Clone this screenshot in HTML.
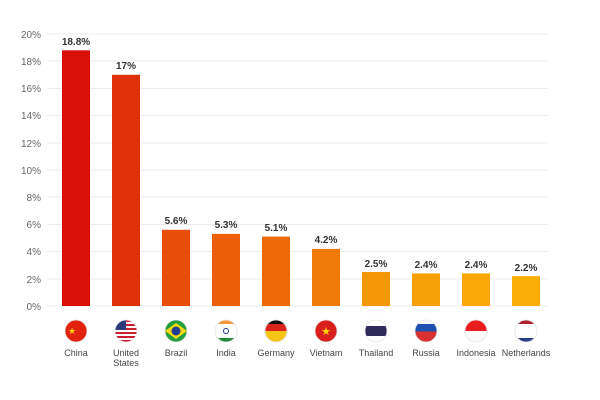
<!DOCTYPE html>
<html><head><style>body{margin:0;background:#fff}svg{display:block}text{font-family:"Liberation Sans",sans-serif}</style></head><body>
<svg width="600" height="400" viewBox="0 0 600 400">
<defs>
<clipPath id="c0"><circle cx="76" cy="331" r="11"/></clipPath>
<clipPath id="c1"><circle cx="126" cy="331" r="11"/></clipPath>
<clipPath id="c2"><circle cx="176" cy="331" r="11"/></clipPath>
<clipPath id="c3"><circle cx="226" cy="331" r="11"/></clipPath>
<clipPath id="c4"><circle cx="276" cy="331" r="11"/></clipPath>
<clipPath id="c5"><circle cx="326" cy="331" r="11"/></clipPath>
<clipPath id="c6"><circle cx="376" cy="331" r="11"/></clipPath>
<clipPath id="c7"><circle cx="426" cy="331" r="11"/></clipPath>
<clipPath id="c8"><circle cx="476" cy="331" r="11"/></clipPath>
<clipPath id="c9"><circle cx="526" cy="331" r="11"/></clipPath>
</defs>
<g stroke="#ececec" stroke-width="1">
<line x1="47" x2="548" y1="34" y2="34"/><line x1="47" x2="548" y1="61" y2="61"/><line x1="47" x2="548" y1="88.5" y2="88.5"/><line x1="47" x2="548" y1="115.5" y2="115.5"/><line x1="47" x2="548" y1="143" y2="143"/><line x1="47" x2="548" y1="170" y2="170"/><line x1="47" x2="548" y1="197" y2="197"/><line x1="47" x2="548" y1="224.5" y2="224.5"/><line x1="47" x2="548" y1="251.5" y2="251.5"/><line x1="47" x2="548" y1="279" y2="279"/><line x1="47" x2="548" y1="306" y2="306"/>
</g>
<g font-size="10" fill="#666" text-anchor="end">
<text x="41" y="38">20%</text><text x="41" y="65">18%</text><text x="41" y="92">16%</text><text x="41" y="119">14%</text><text x="41" y="147">12%</text><text x="41" y="174">10%</text><text x="41" y="201">8%</text><text x="41" y="228">6%</text><text x="41" y="255">4%</text><text x="41" y="283">2%</text><text x="41" y="310">0%</text>
</g>
<rect x="62" y="50.3" width="28" height="255.7" fill="#d90f0a"/>
<rect x="112" y="74.8" width="28" height="231.2" fill="#e0300a"/>
<rect x="162" y="229.8" width="28" height="76.2" fill="#e84d0a"/>
<rect x="212" y="233.9" width="28" height="72.1" fill="#ec5e0a"/>
<rect x="262" y="236.6" width="28" height="69.4" fill="#ee6a08"/>
<rect x="312" y="248.9" width="28" height="57.1" fill="#f07a08"/>
<rect x="362" y="272" width="28" height="34" fill="#f59808"/>
<rect x="412" y="273.4" width="28" height="32.6" fill="#f7a008"/>
<rect x="462" y="273.4" width="28" height="32.6" fill="#f9a808"/>
<rect x="512" y="276.1" width="28" height="29.9" fill="#fbad08"/>
<g font-size="10" font-weight="bold" fill="#333" text-anchor="middle">
<text x="76" y="45">18.8%</text><text x="126" y="69">17%</text><text x="176" y="224">5.6%</text><text x="226" y="228">5.3%</text><text x="276" y="231">5.1%</text><text x="326" y="243">4.2%</text><text x="376" y="267">2.5%</text><text x="426" y="268">2.4%</text><text x="476" y="268">2.4%</text><text x="526" y="271">2.2%</text>
</g>
<!-- flags -->
<g clip-path="url(#c0)"><rect x="60" y="315" width="32" height="32" fill="#e0220f"/><text x="72" y="334" font-size="9" fill="#ffd200" text-anchor="middle">★</text></g>
<g clip-path="url(#c1)"><rect x="110" y="315" width="32" height="32" fill="#fff"/><g fill="#c8202f"><rect x="110" y="320" width="32" height="2"/><rect x="110" y="324" width="32" height="2"/><rect x="110" y="328" width="32" height="2"/><rect x="110" y="332" width="32" height="2"/><rect x="110" y="336" width="32" height="2"/><rect x="110" y="340" width="32" height="2"/></g><rect x="110" y="315" width="16" height="15" fill="#2b3a7a"/></g>
<g clip-path="url(#c2)"><rect x="160" y="315" width="32" height="32" fill="#229e3d"/><polygon points="176,323 187,331 176,339 165,331" fill="#f5d80f"/><circle cx="176" cy="331" r="4.5" fill="#1f3f8f"/></g>
<g clip-path="url(#c3)"><rect x="210" y="315" width="32" height="32" fill="#fff"/><rect x="210" y="315" width="32" height="9" fill="#f3993a"/><rect x="210" y="338" width="32" height="9" fill="#1f8a3a"/><circle cx="226" cy="331" r="2.5" fill="none" stroke="#1a3a8a"/></g>
<g clip-path="url(#c4)"><rect x="260" y="315" width="32" height="9" fill="#111"/><rect x="260" y="324" width="32" height="7" fill="#d9251c"/><rect x="260" y="331" width="32" height="16" fill="#f5c518"/><rect x="260" y="331" width="32" height="7" fill="#e23a1c" opacity="0"/></g>
<g clip-path="url(#c5)"><rect x="310" y="315" width="32" height="32" fill="#d9201c"/><text x="326" y="335" font-size="11" fill="#ffd500" text-anchor="middle">★</text></g>
<g clip-path="url(#c6)"><rect x="360" y="315" width="32" height="32" fill="#fff"/><rect x="360" y="315" width="32" height="4" fill="#b8213a"/><rect x="360" y="343" width="32" height="4" fill="#b8213a"/><rect x="360" y="326" width="32" height="10" fill="#2d2a5a"/></g>
<g clip-path="url(#c7)"><rect x="410" y="315" width="32" height="9" fill="#fff"/><rect x="410" y="324" width="32" height="7.5" fill="#1f4fb0"/><rect x="410" y="331.5" width="32" height="16" fill="#d93030"/><rect x="410" y="315" width="32" height="9" fill="#f4f4f4"/></g>
<g clip-path="url(#c8)"><rect x="460" y="315" width="32" height="16" fill="#e81e1e"/><rect x="460" y="331" width="32" height="16" fill="#fafafa"/></g>
<g clip-path="url(#c9)"><rect x="510" y="315" width="32" height="9" fill="#ad2430"/><rect x="510" y="324" width="32" height="14" fill="#fff"/><rect x="510" y="338" width="32" height="9" fill="#2a3c8c"/></g>
<g fill="none" stroke="#e4e4e4" stroke-width="0.8"><circle cx="76" cy="331" r="11"/><circle cx="126" cy="331" r="11"/><circle cx="176" cy="331" r="11"/><circle cx="226" cy="331" r="11"/><circle cx="276" cy="331" r="11"/><circle cx="326" cy="331" r="11"/><circle cx="376" cy="331" r="11"/><circle cx="426" cy="331" r="11"/><circle cx="476" cy="331" r="11"/><circle cx="526" cy="331" r="11"/></g>
<g font-size="9" fill="#444" text-anchor="middle">
<text x="76" y="356">China</text><text x="126" y="356">United</text><text x="126" y="366">States</text><text x="176" y="356">Brazil</text><text x="226" y="356">India</text><text x="276" y="356">Germany</text><text x="326" y="356">Vietnam</text><text x="376" y="356">Thailand</text><text x="426" y="356">Russia</text><text x="476" y="356">Indonesia</text><text x="526" y="356">Netherlands</text>
</g>
</svg>
</body></html>
